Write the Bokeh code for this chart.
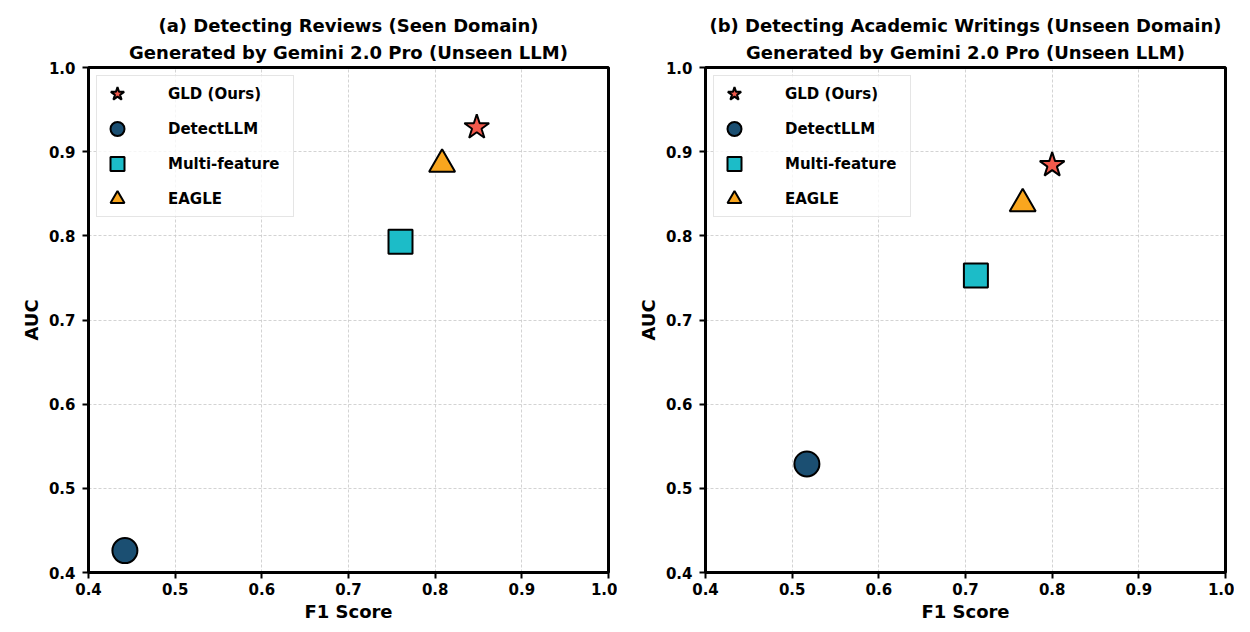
from bokeh.plotting import figure
from bokeh.layouts import row
from bokeh.models import Title, FixedTicker, Range1d, Legend, LegendItem, CustomJSTickFormatter
from bokeh.embed import file_html
from bokeh.resources import INLINE

# ---- data ----
methods = ["GLD (Ours)", "DetectLLM", "Multi-feature", "EAGLE"]
markers = ["star", "circle", "square", "triangle"]
colors = ["#F25A4C", "#1B4F72", "#1CBCC8", "#F9A61E"]
sizes = [26, 25, 24, 26]

f1_reviews = [0.848, 0.442, 0.760, 0.808]
auc_reviews = [0.929, 0.426, 0.793, 0.885]

f1_academic = [0.800, 0.517, 0.712, 0.766]
auc_academic = [0.884, 0.529, 0.753, 0.838]

ticks = [0.4, 0.5, 0.6, 0.7, 0.8, 0.9, 1.0]

titles_a = ["(a) Detecting Reviews (Seen Domain)", "Generated by Gemini 2.0 Pro (Unseen LLM)"]
titles_b = ["(b) Detecting Academic Writings (Unseen Domain)", "Generated by Gemini 2.0 Pro (Unseen LLM)"]

FONT = "DejaVu Sans"


def make_panel(xs, ys, title_lines):
    p = figure(width=617, height=624, output_backend="svg", toolbar_location=None,
               x_range=Range1d(0.4, 1.0), y_range=Range1d(0.4, 1.0),
               min_border_left=88, min_border_right=9, min_border_top=67,
               min_border_bottom=52, title=None)
    # second line first: it sits closest to the plot
    p.add_layout(Title(text=title_lines[1], align="center", text_font=FONT,
                       text_font_size="18px", text_font_style="bold",
                       text_color="black", standoff=9, offset=0), "above")
    p.add_layout(Title(text=title_lines[0], align="center", text_font=FONT,
                       text_font_size="18px", text_font_style="bold",
                       text_color="black", standoff=0, offset=0), "above")

    p.outline_line_color = "black"
    p.outline_line_width = 3
    p.background_fill_color = "white"
    p.border_fill_color = "white"

    fmt = CustomJSTickFormatter(code="return tick.toFixed(1);")
    for ax in (p.xaxis[0], p.yaxis[0]):
        ax.ticker = FixedTicker(ticks=ticks)
        ax.formatter = fmt
        ax.axis_line_width = 3
        ax.axis_line_color = "black"
        ax.major_tick_line_width = 2
        ax.major_tick_out = 6
        ax.major_tick_in = 0
        ax.minor_tick_line_color = None
        ax.major_label_text_font = FONT
        ax.major_label_text_font_size = "15px"
        ax.major_label_text_font_style = "bold"
        ax.major_label_text_color = "black"
        ax.axis_label_text_font = FONT
        ax.axis_label_text_font_size = "18px"
        ax.axis_label_text_font_style = "bold"
        ax.axis_label_text_color = "black"
    p.xaxis.axis_label = "F1 Score"
    p.yaxis.axis_label = "AUC"
    p.xaxis.major_label_standoff = 4
    p.yaxis.major_label_standoff = 7
    p.xaxis.axis_label_standoff = 3
    p.yaxis.axis_label_standoff = 4

    p.grid.grid_line_color = "#c8c8c8"
    p.grid.grid_line_width = 0.8
    p.grid.grid_line_dash = "3 2"

    items = []
    for m, mk, c, s, x, y in zip(methods, markers, colors, sizes, xs, ys):
        r = p.scatter([x], [y], marker=mk, size=s, fill_color=c,
                      line_color="black", line_width=2)
        items.append(LegendItem(label=m, renderers=[r]))

    leg = Legend(items=items, location="top_left", margin=8, padding=0,
                 glyph_width=40, glyph_height=35, spacing=0,
                 label_standoff=31, label_width=125,
                 label_text_font=FONT, label_text_font_size="15px",
                 label_text_font_style="bold", label_text_color="black",
                 border_line_color="#cccccc", border_line_width=1.5,
                 background_fill_alpha=0.8)
    p.add_layout(leg, "center")
    return p


p1 = make_panel(f1_reviews, auc_reviews, titles_a)
p2 = make_panel(f1_academic, auc_academic, titles_b)

layout = row(p1, p2)
open("out.html", "w").write(file_html(layout, INLINE))
